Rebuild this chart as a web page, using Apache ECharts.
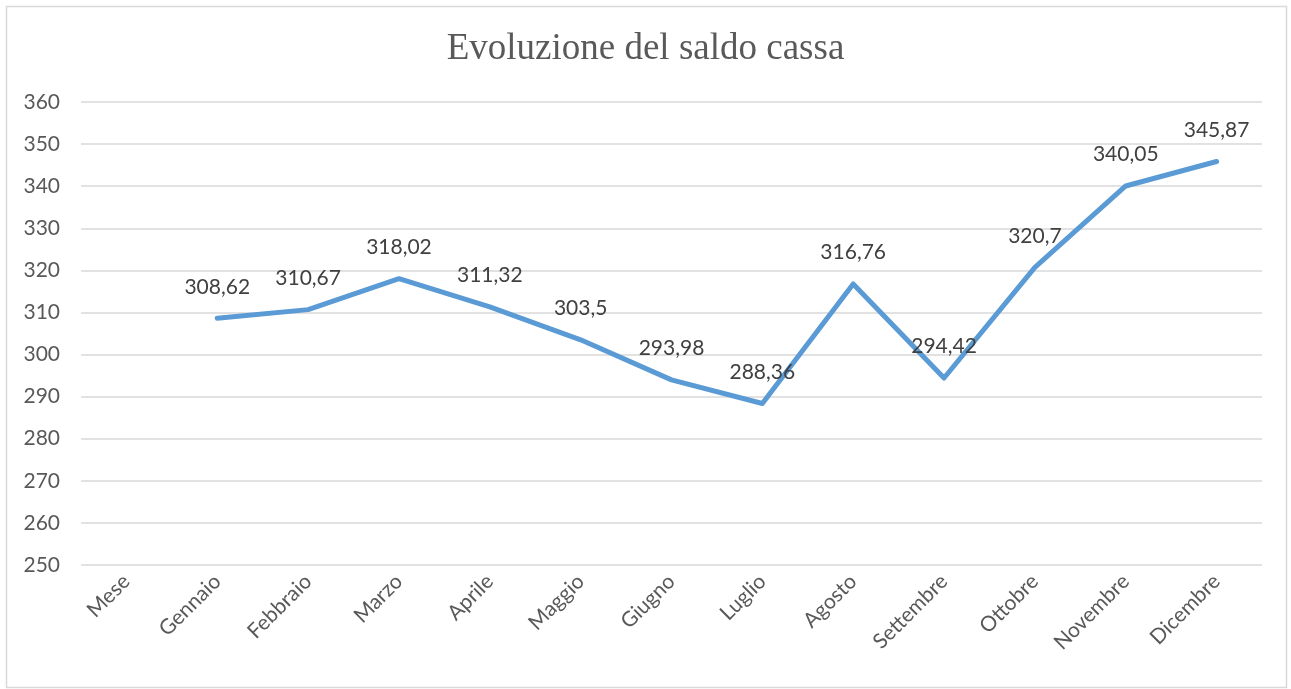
<!DOCTYPE html>
<html>
<head>
<meta charset="utf-8">
<script src="https://cdn.jsdelivr.net/npm/echarts@6/dist/echarts.min.js"></script>
<style>
  html, body { margin: 0; padding: 0; background: #fff; }
  #main { width: 1291px; height: 689px; }
</style>
</head>
<body>
<div id="main"></div>
<script>
var mesi = ['Mese', 'Gennaio', 'Febbraio', 'Marzo', 'Aprile', 'Maggio', 'Giugno',
            'Luglio', 'Agosto', 'Settembre', 'Ottobre', 'Novembre', 'Dicembre'];
// no value for the header column "Mese"
var saldo = [null, 308.62, 310.67, 318.02, 311.32, 303.5, 293.98,
             288.36, 316.76, 294.42, 320.7, 340.05, 345.87];
var yMin = 250, yMax = 360, yStep = 10;

var chart = echarts.init(document.getElementById('main'));
chart.setOption({
    animation: false,
    backgroundColor: '#fff',
    title: {
        text: 'Evoluzione del saldo cassa',
        left: 'center',
        top: 26,
        textStyle: {
            fontFamily: 'Liberation Serif',
            fontWeight: 'normal',
            fontSize: 37,
            color: '#595959'
        }
    },
    graphic: [{
        type: 'rect',
        shape: { x: 6.5, y: 6.5, width: 1280, height: 681 },
        style: { fill: 'none', stroke: '#d9d9d9', lineWidth: 1.5 },
        silent: true
    }],
    grid: { left: 81, right: 29, top: 102, bottom: 124 },
    xAxis: {
        type: 'category',
        data: mesi,
        boundaryGap: true,
        axisLine: { show: false },
        axisTick: { show: false },
        axisLabel: {
            rotate: 45,
            interval: 0,
            margin: 13,
            fontFamily: 'Lato',
            fontSize: 21,
            color: '#595959'
        }
    },
    yAxis: {
        type: 'value',
        min: yMin,
        max: yMax,
        interval: yStep,
        axisLine: { show: false },
        axisTick: { show: false },
        axisLabel: {
            margin: 21,
            fontFamily: 'Lato',
            fontSize: 21,
            color: '#595959'
        },
        splitLine: { lineStyle: { color: '#d9d9d9', width: 1.5 } }
    },
    series: [{
        type: 'line',
        data: saldo,
        connectNulls: false,
        symbol: 'circle',
        symbolSize: 2,
        showSymbol: true,
        showAllSymbol: true,
        itemStyle: { color: 'rgba(0,0,0,0)' },
        lineStyle: { color: '#5b9bd5', width: 5, cap: 'round', join: 'round' },
        label: {
            show: true,
            position: 'top',
            distance: 20,
            fontFamily: 'Lato',
            fontSize: 21,
            color: '#404040',
            formatter: function (p) {
                return String(p.value).replace('.', ',');
            }
        }
    }]
});
</script>
</body>
</html>
